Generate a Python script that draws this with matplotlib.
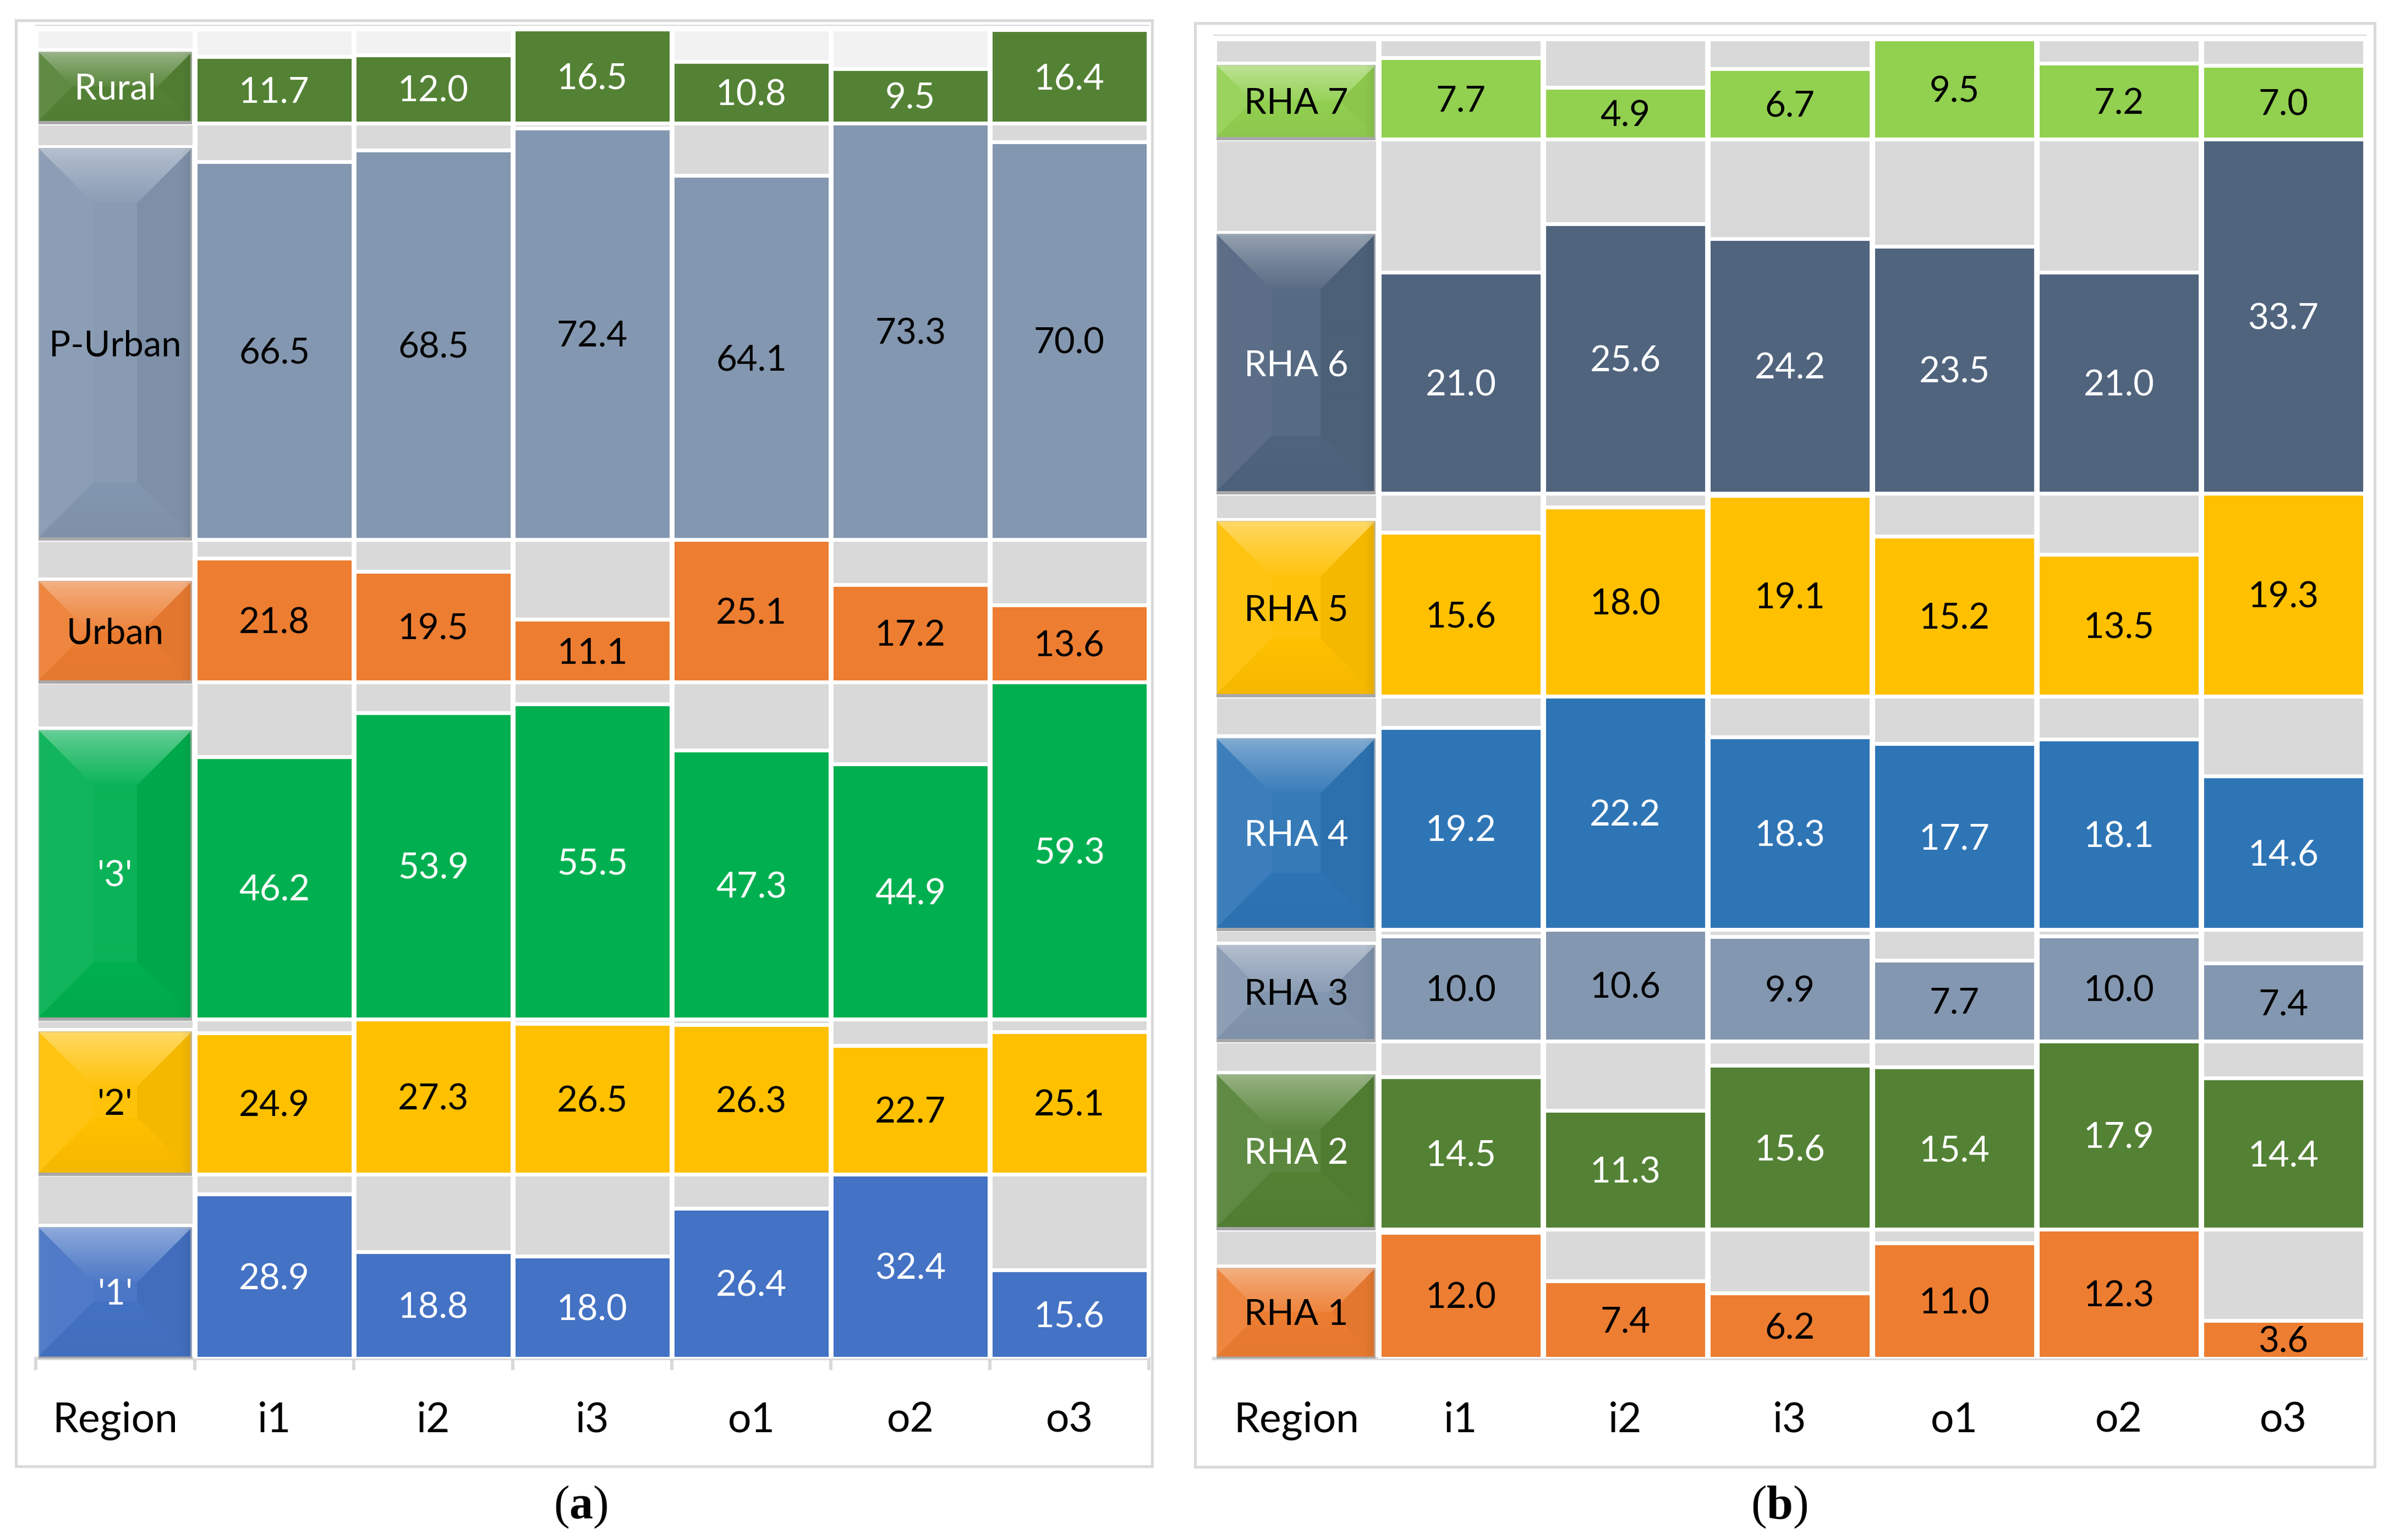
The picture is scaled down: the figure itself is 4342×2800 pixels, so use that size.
import numpy as np
import matplotlib
matplotlib.use("Agg")
import matplotlib.pyplot as plt
from matplotlib.colors import to_rgb
from matplotlib.patches import Rectangle
import matplotlib.transforms as mtransforms

plt.rcParams['font.family'] = ['Lato', 'DejaVu Sans']
plt.rcParams['mathtext.fontset'] = 'custom'
plt.rcParams['mathtext.rm'] = 'Liberation Serif'
plt.rcParams['mathtext.bf'] = 'Liberation Serif:bold'

# ---------------- data ----------------
columns = ["i1", "i2", "i3", "o1", "o2", "o3"]
axis_name = "Region"

a_categories = ["'1'", "'2'", "'3'", "Urban", "P-Urban", "Rural"]
a_row1 = [28.9, 18.8, 18.0, 26.4, 32.4, 15.6]
a_row2 = [24.9, 27.3, 26.5, 26.3, 22.7, 25.1]
a_row3 = [46.2, 53.9, 55.5, 47.3, 44.9, 59.3]
a_urban = [21.8, 19.5, 11.1, 25.1, 17.2, 13.6]
a_purban = [66.5, 68.5, 72.4, 64.1, 73.3, 70.0]
a_rural = [11.7, 12.0, 16.5, 10.8, 9.5, 16.4]
a_values = [a_row1, a_row2, a_row3, a_urban, a_purban, a_rural]
a_label_heights = [23.4, 25.5, 51.2, 18.1, 69.1, 12.8]
a_colors = ["#4472C4", "#FFC000", "#00B050", "#ED7D31", "#8497B0", "#548235"]
a_text_colors = ["white", "black", "white", "black", "black", "white"]
a_bg_colors = ["#D9D9D9", "#D9D9D9", "#D9D9D9", "#D9D9D9", "#D9D9D9", "#F2F2F2"]

b_categories = ["RHA 1", "RHA 2", "RHA 3", "RHA 4", "RHA 5", "RHA 6", "RHA 7"]
b_rha1 = [12.0, 7.4, 6.2, 11.0, 12.3, 3.6]
b_rha2 = [14.5, 11.3, 15.6, 15.4, 17.9, 14.4]
b_rha3 = [10.0, 10.6, 9.9, 7.7, 10.0, 7.4]
b_rha4 = [19.2, 22.2, 18.3, 17.7, 18.1, 14.6]
b_rha5 = [15.6, 18.0, 19.1, 15.2, 13.5, 19.3]
b_rha6 = [21.0, 25.6, 24.2, 23.5, 21.0, 33.7]
b_rha7 = [7.7, 4.9, 6.7, 9.5, 7.2, 7.0]
b_values = [b_rha1, b_rha2, b_rha3, b_rha4, b_rha5, b_rha6, b_rha7]
b_label_heights = [8.8, 14.9, 9.3, 18.4, 16.8, 24.8, 7.2]
b_colors = ["#ED7D31", "#548235", "#8497B0", "#2E75B6", "#FFC000", "#50647E", "#92D050"]
b_text_colors = ["black", "white", "black", "white", "black", "white", "black"]
b_bg_colors = ["#D9D9D9"] * 7

# ---------------- figure ----------------
W_PX, H_PX, DPI = 4342, 2800, 100
fig = plt.figure(figsize=(W_PX / DPI, H_PX / DPI), dpi=DPI)
PT = 72.0 / DPI  # points per pixel

VAL_FS = 47
TICK_FS = 54
CAP = 0.7165


def bevel_image(color, w, h, d=100, shadow=6):
    b = np.array(to_rgb(color))
    H = max(int(round(h)), 4)
    Wd = max(int(round(w)), 4)
    yy, xx = np.mgrid[0:H, 0:Wd].astype(float) + 0.5
    dt, db, dl, dr = yy, H - yy, xx, Wd - xx
    d = min(d, H / 2.0, Wd / 2.0)

    def light(t):
        return b + (1 - b) * t

    def dark(t):
        return b * (1 - t)

    img = np.empty((H, Wd, 3))
    img[:] = light(0.04)
    stack = np.stack([dt, db, dl, dr])
    face = np.argmin(stack, axis=0)
    m = stack.min(axis=0)
    inner = m < d
    f = np.clip(dt / d, 0, 1)[..., None] ** 0.8
    topcol = light(0.42) * (1 - f) + light(0.06) * f
    top = inner & (face == 0)
    img[top] = topcol[top]
    g = np.clip(db / d, 0, 1)[..., None]
    botcol = dark(0.04) * (1 - g) + dark(0.0) * g
    bot = inner & (face == 1)
    img[bot] = botcol[bot]
    left = inner & (face == 2)
    img[left] = light(0.07)
    right = inner & (face == 3)
    img[right] = dark(0.04)
    # soft side shading strips (lighter left edge, darker right edge)
    lx = np.clip(xx / 25.0, 0, 1)[..., None]
    img = img * (0.96 + 0.04 * lx) + (1 - lx) * 0.04 * light(0.3)
    rx = np.clip(dr / 20.0, 0, 1)[..., None]
    img = img * (0.93 + 0.07 * rx)
    # thin outline
    edge = np.array([0.72, 0.72, 0.72])
    img[:, :2] = img[:, :2] * 0.5 + edge * 0.5
    img[:, -3:] = img[:, -3:] * 0.3 + edge * 0.7
    img[:2, :] = img[:2, :] * 0.6 + edge * 0.4
    if shadow > 0:
        sh = np.empty((shadow, Wd, 3))
        sh[:] = np.array([0.66, 0.66, 0.66])
        img = np.concatenate([img, sh], axis=0)
    return np.clip(img, 0, 1)


def draw_panel(px_left, px_right, px_top, px_bottom, stack_top_px,
               categories, values, label_heights, colors, text_colors,
               bg_colors, show_ticks):
    ax = fig.add_axes([px_left / W_PX, 1 - px_bottom / H_PX,
                       (px_right - px_left) / W_PX, (px_bottom - px_top) / H_PX])
    bands = [max(v) for v in values]
    total = sum(bands)
    pxy = (px_bottom - stack_top_px) / total
    ytop = (px_bottom - px_top) / pxy
    pxx = (px_right - px_left) / 7.0
    edge_lw = 7 * PT
    width = 0.99
    xs = np.arange(1, 7)

    bottom = 0.0
    for i, cat in enumerate(categories):
        vals = values[i]
        band = bands[i]
        ax.bar(xs, [band] * 6, bottom=bottom, width=width, color=bg_colors[i],
               edgecolor="white", linewidth=edge_lw, zorder=2)
        ax.bar(xs, vals, bottom=bottom, width=width, color=colors[i],
               edgecolor="white", linewidth=edge_lw, zorder=3)
        for x, v in zip(xs, vals):
            ax.annotate(f"{v:.1f}", (x, bottom + v / 2.0), xytext=(0, -CAP * VAL_FS / 2),
                        textcoords="offset points", ha="center", va="baseline",
                        fontsize=VAL_FS, color=text_colors[i], zorder=6)
        lh = label_heights[i]
        ax.bar([0], [band - lh], bottom=bottom + lh, width=width, color=bg_colors[i],
               edgecolor="white", linewidth=edge_lw, zorder=2)
        vis_w = pxx - 10
        half = vis_w / 2.0 / pxx
        y0 = bottom + 3.5 / pxy
        y1 = bottom + lh - 3.5 / pxy
        h_px = (y1 - y0) * pxy
        shadow = 6
        img = bevel_image(colors[i], vis_w, h_px, d=100, shadow=shadow)
        ax.imshow(img, extent=[-half, half, y0 - shadow / pxy, y1], aspect="auto",
                  interpolation="bilinear", zorder=4, origin="upper")
        ax.annotate(cat, (0, bottom + lh / 2.0), xytext=(0, -CAP * VAL_FS / 2),
                    textcoords="offset points", ha="center", va="baseline",
                    fontsize=VAL_FS, color=text_colors[i], zorder=6)
        bottom += band

    ax.set_xlim(-0.5, 6.5)
    ax.set_ylim(0, ytop)
    for s in ["left", "right"]:
        ax.spines[s].set_visible(False)
    ax.spines["top"].set_color("#D9D9D9")
    ax.spines["top"].set_linewidth(2 * PT)
    ax.spines["bottom"].set_color("#D9D9D9")
    ax.spines["bottom"].set_linewidth(6 * PT)
    ax.set_yticks([])
    ax.set_xticks(np.arange(-0.5, 7.0, 1.0))
    ax.set_xticklabels([])
    if show_ticks:
        ax.tick_params(axis="x", length=21 * PT, width=6 * PT, color="#D9D9D9", direction="out")
    else:
        ax.tick_params(axis="x", length=0)
    ax.set_facecolor("none")
    trans = mtransforms.blended_transform_factory(ax.transData, ax.transAxes)
    ybase = -(2604 - px_bottom) / (px_bottom - px_top)
    for x, lab in enumerate([axis_name] + columns):
        ax.text(x, ybase, lab, transform=trans, ha="center", va="baseline",
                fontsize=TICK_FS, color="black")
    return ax


def border(x0, y0, x1, y1):
    r = Rectangle((x0 / W_PX, 1 - y1 / H_PX), (x1 - x0) / W_PX, (y1 - y0) / H_PX,
                  transform=fig.transFigure, fill=False, edgecolor="#D9D9D9",
                  linewidth=5 * PT, zorder=0)
    fig.patches.append(r)


border(28.5, 37, 2094, 2666)
border(2172, 42, 4316, 2667)

draw_panel(65, 2088, 46, 2470, 53, a_categories, a_values, a_label_heights,
           a_colors, a_text_colors, a_bg_colors, True)
draw_panel(2206.5, 4299.5, 64, 2470, 71, b_categories, b_values, b_label_heights,
           b_colors, b_text_colors, b_bg_colors, False)

cap_kw = dict(ha="center", va="center", fontsize=62, family="Liberation Serif", color="black")
fig.text(1055 / W_PX, 1 - 2740 / H_PX, r"($\mathbf{a}$)", **cap_kw)
fig.text(3234 / W_PX, 1 - 2740 / H_PX, r"($\mathbf{b}$)", **cap_kw)

fig.savefig("out.png", dpi=DPI, facecolor="white")
